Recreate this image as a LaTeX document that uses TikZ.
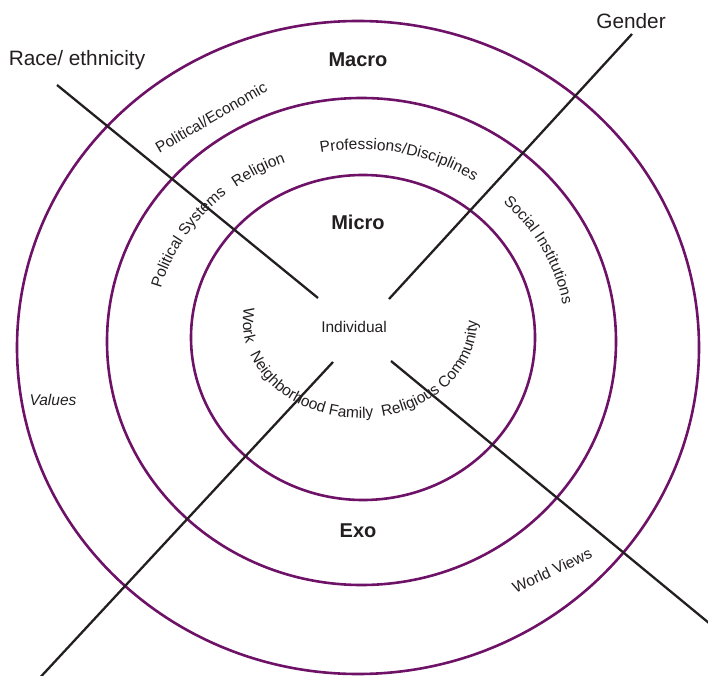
\documentclass[tikz,border=0pt]{standalone}
\usepackage{fontspec}
\setmainfont{Liberation Sans}
\usepackage{xcolor}
\usetikzlibrary{calc,decorations.text}

\definecolor{ringpurple}{RGB}{110,18,104}
\definecolor{inkgray}{RGB}{35,31,32}
\newcommand{\ringfont}{\fontsize{15.5}{18}\selectfont\color{inkgray}}

\begin{document}
\begin{tikzpicture}[x=1pt,y=1pt,
    ring/.style={draw=ringpurple, line width=2.6pt},
    spoke/.style={draw=inkgray, line width=2.3pt},
    level/.style={font=\bfseries\fontsize{20}{24}\selectfont, text=inkgray},
    big/.style={font=\fontsize{20.8}{24}\selectfont, text=inkgray},
    small/.style={font=\fontsize{15.5}{18}\selectfont, text=inkgray},
    curved/.style={decorate, decoration={text along path, text align=left}}]

    \useasboundingbox (0,0) rectangle (708,675);

    % 三个椭圆的中心
    \coordinate (outer) at (358,327.5);
    \coordinate (middle) at (361.5,333.5);
    \coordinate (inner) at (363,337.5);
    % 文字所沿的椭圆中心
    \coordinate (tu) at (360,337.5);
    \coordinate (tl) at (360,353);

    % 四条斜线的端点
    \coordinate (A) at (57,590);
    \coordinate (B) at (318,377);
    \coordinate (C) at (632,641);
    \coordinate (D) at (389,376);
    \coordinate (E) at (333,313);
    \coordinate (F) at (35,-8);
    \coordinate (G) at (391,314);
    \coordinate (H) at (715,47);

    % 画椭圆
    \draw[ring] (outer) ellipse [x radius=341, y radius=326.5];
    \draw[ring] (middle) ellipse [x radius=254.5, y radius=243.5];
    \draw[ring] (inner) ellipse [x radius=172, y radius=162.5];

    % 画斜线
    \draw[spoke] (A) -- (B);
    \draw[spoke] (C) -- (D);
    \draw[spoke] (E) -- (F);
    \draw[spoke] (G) -- (H);

    % 标签
    \node[big] (race) at (77,615) {Race/ ethnicity};
    \node[big] (gender) at (631,654) {Gender};
    \node[level] (macro) at (358,615) {Macro};
    \node[level] (micro) at (358,453) {Micro};
    \node[level] (exo) at (358,144) {Exo};
    \node[small] (indiv) at (354,348) {Individual};
    \node[small, font=\itshape\fontsize{15.5}{18}\selectfont] (values) at (53,275) {Values};
    \node[small, rotate=30] (polecon) at (211,557.5) {Political/Economic};
    \node[small, rotate=25] (worldviews) at (552,104.5) {World Views};

    % 沿外圈的弯曲文字
    \path[curved, decoration={text={|\ringfont|Political Systems}}]
        ($(tu)+(165:206 and 188)$) arc[start angle=165, end angle=120, x radius=206, y radius=188];
    \path[curved, decoration={text={|\ringfont|Religion}}]
        ($(tu)+(127:206 and 188)$) arc[start angle=127, end angle=95, x radius=206, y radius=188];
    \path[curved, decoration={text={|\ringfont|Professions/Disciplines}}]
        ($(tu)+(101:206 and 188)$) arc[start angle=101, end angle=35, x radius=206, y radius=188];
    \path[curved, decoration={text={|\ringfont|Social Institutions}}]
        ($(tu)+(46:206 and 188)$) arc[start angle=46, end angle=-20, x radius=206, y radius=188];

    % 沿内圈的弯曲文字
    \path[curved, decoration={text={|\ringfont|Work}}]
        ($(tl)+(171.5:117 and 96)$) arc[start angle=171.5, end angle=200, x radius=117, y radius=96];
    \path[curved, decoration={text={|\ringfont|Neighborhood Family}}]
        ($(tl)+(200:117 and 96)$) arc[start angle=200, end angle=285, x radius=117, y radius=96];
    \path[curved, decoration={text={|\ringfont|Religious Community}}]
        ($(tl)+(281:117 and 96)$) arc[start angle=281, end angle=375, x radius=117, y radius=96];

\end{tikzpicture}
\end{document}
